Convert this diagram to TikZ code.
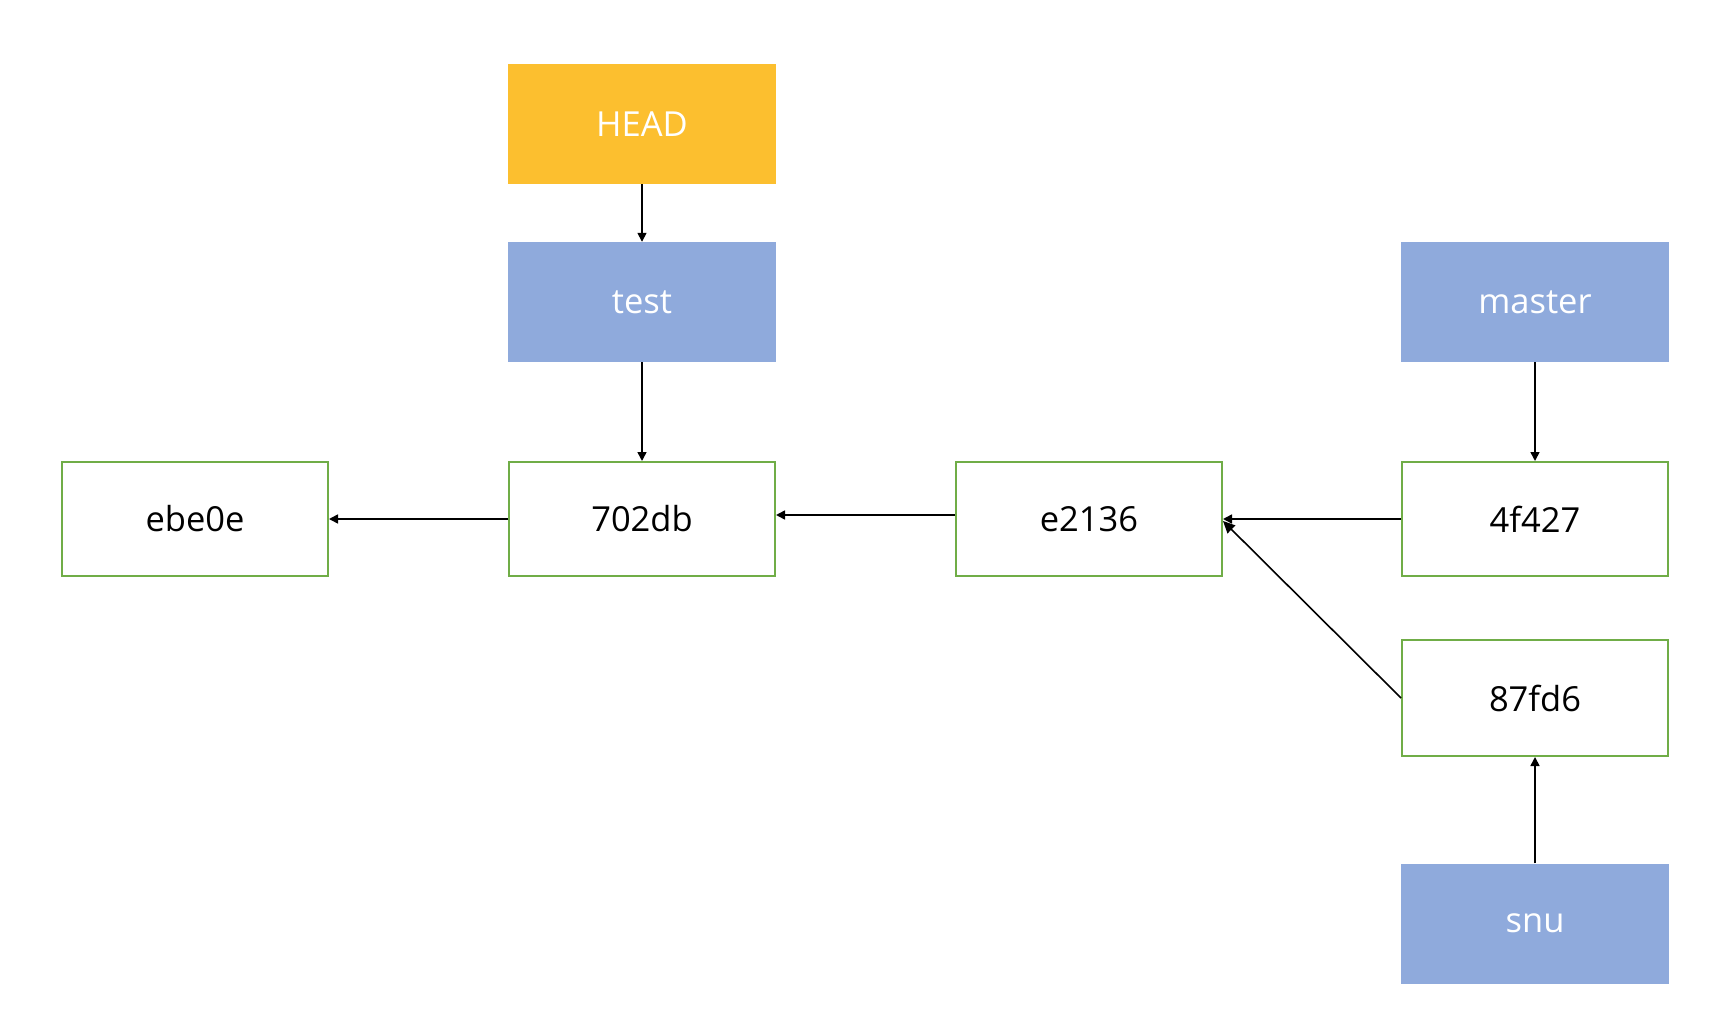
\documentclass[tikz,border=0pt]{standalone}
\usepackage{fontspec}
\setmainfont{Open Sans}
\usetikzlibrary{arrows.meta}
\definecolor{headfill}{HTML}{FCBF2F}
\definecolor{reffill}{HTML}{8FAADC}
\definecolor{commitline}{HTML}{70AD47}
\begin{document}
\begin{tikzpicture}[x=1pt,y=-1pt,
  refbox/.style={fill=reffill,draw=none,minimum width=268pt,minimum height=120pt,inner sep=0pt,text=white,font=\fontsize{34.5}{40}\selectfont},
  headbox/.style={refbox,fill=headfill},
  commitbox/.style={draw=commitline,line width=2pt,fill=white,minimum width=266pt,minimum height=114pt,inner sep=0pt,text=black,font=\fontsize{34.5}{40}\selectfont},
  arr/.style={draw=black,line width=1.6pt,-{Triangle[length=9pt,width=9pt]}},
  bigarr/.style={arr,-{Triangle[length=12pt,width=11pt]}}]
\useasboundingbox[fill=white] (0,0) rectangle (1722,1032);
\node[headbox] (head) at (642,124) {HEAD};
\node[refbox] (test) at (642,302) {test};
\node[refbox] (master) at (1535,302) {master};
\node[refbox] (snu) at (1535,923.5) {snu};
\node[commitbox] (ebe) at (195,519) {ebe0e};
\node[commitbox] (c702) at (642,519) {702db};
\node[commitbox] (e21) at (1089,519) {e2136};
\node[commitbox] (f42) at (1535,519) {4f427};
\node[commitbox,minimum height=116pt] (f87) at (1535,698) {87fd6};
\draw[arr] (head) -- (test);
\draw[arr] (test) -- (c702);
\draw[arr] (master) -- (f42);
\draw[arr] (c702) -- (ebe);
\draw[arr] ([yshift=4pt]e21.west) -- ([yshift=4pt]c702.east);
\draw[arr] (f42) -- (e21);
\draw[bigarr] (f87.west) -- ([yshift=-2pt]e21.east);
\draw[arr] (snu) -- (f87);
\end{tikzpicture}
\end{document}
